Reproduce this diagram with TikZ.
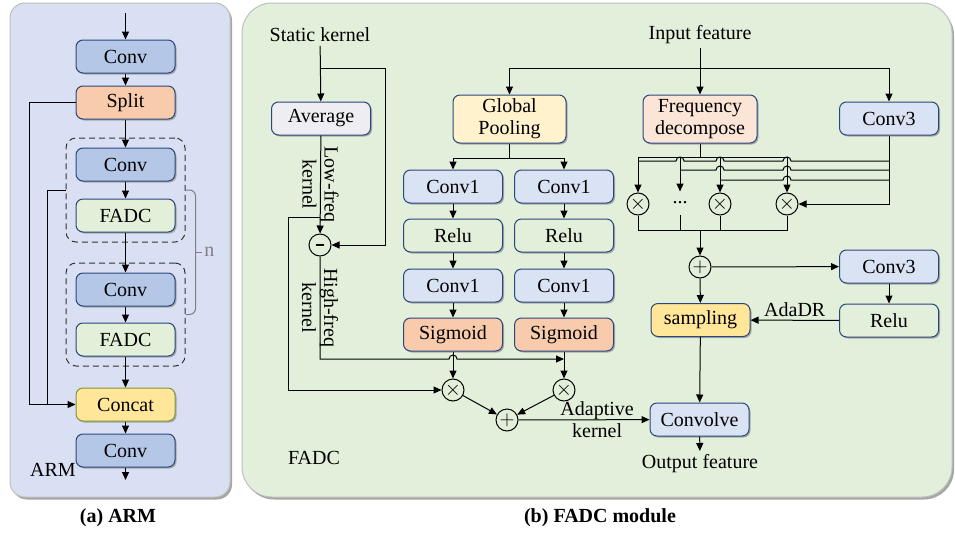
\documentclass[tikz,border=0pt]{standalone}
\usepackage{fontspec}
\setmainfont{Liberation Serif}
\usepackage{xcolor}
\definecolor{boxline}{RGB}{44, 70, 122}
\definecolor{armbg}{RGB}{218, 224, 243}
\definecolor{fadcbg}{RGB}{226, 239, 218}
\definecolor{convblue}{RGB}{180, 199, 231}
\definecolor{lightblue}{RGB}{218, 227, 243}
\definecolor{peach}{RGB}{248, 203, 173}
\definecolor{lightpeach}{RGB}{251, 229, 214}
\definecolor{paleyellow}{RGB}{255, 242, 204}
\definecolor{gold}{RGB}{255, 230, 153}
\definecolor{palegreen}{RGB}{226, 240, 217}
\definecolor{avggray}{RGB}{238, 238, 242}
\definecolor{concatline}{RGB}{130, 150, 60}
\definecolor{shadowgray}{RGB}{165, 170, 170}
\usepackage{tikz}
\usetikzlibrary{
    arrows.meta,
    positioning,
    fit
}
\tikzstyle{arrow} = [
    -{Triangle[length=8pt,width=7pt]}
]

\begin{document}
\begin{tikzpicture}[
  x=1pt, y=-1pt,
  font=\fontsize{20}{22}\selectfont,
  line width=1pt,
  node distance=15pt,
  box/.style={draw=boxline, rounded corners=7pt, minimum width=99pt, minimum height=33pt,
    preaction={draw=none, fill=shadowgray, transform canvas={shift={(1.5pt,-1.5pt)}}}},
  twoline/.style={box, align=center, minimum height=48pt},
  op/.style={draw, circle, minimum size=22pt, inner sep=0pt},
  group/.style={draw=black!80, dashed, dash pattern=on 6pt off 4pt, rounded corners=10pt, inner sep=9.5pt},
  panel/.style={draw=gray!50, preaction={draw=none, fill=gray!70, transform canvas={shift={(2pt,-2.5pt)}}}},
  brace/.style={draw=gray, rounded corners=6pt},
  caption/.style={font=\fontsize{20}{22}\selectfont\bfseries}
]
\useasboundingbox (0,0) rectangle (955,533);

\draw[panel, fill=armbg, rounded corners=15pt] (10,3) rectangle (230,497);
\draw[panel, fill=fadcbg, rounded corners=30pt] (242,3) rectangle (952,497);

\node[box, fill=convblue] (aconv1) at (125.5,56.5) {Conv};
\node[box, fill=peach, below=12pt of aconv1] (split) {Split};
\node[box, fill=convblue, below=28pt of split] (aconv2) {Conv};
\node[box, fill=palegreen, below=17pt of aconv2] (afadc1) {FADC};
\node[box, fill=convblue, below=40pt of afadc1] (aconv3) {Conv};
\node[box, fill=palegreen, below=16pt of aconv3] (afadc2) {FADC};
\node[box, fill=gold, draw=concatline, below=31pt of afadc2] (concat) {Concat};
\node[box, fill=convblue, below=12pt of concat] (aconv4) {Conv};
\node[group, fit=(aconv2)(afadc1)] (grp1) {};
\node[group, fit=(aconv3)(afadc2)] (grp2) {};
\coordinate (armin) at (125.5,13);
\coordinate (armout) at (125.5,480);
\node (armlbl) at (53,470) {ARM};
\node[caption] (capa) at (118,518) {(a) ARM};

\draw[arrow] (armin) -- (aconv1);
\draw[arrow] (aconv1) -- (split);
\draw[arrow] (split) -- (aconv2);
\draw[arrow] (aconv2) -- (afadc1);
\draw[arrow] (afadc1) -- (aconv3);
\draw[arrow] (aconv3) -- (afadc2);
\draw[arrow] (afadc2) -- (concat);
\draw[arrow] (concat) -- (aconv4);
\draw[arrow] (aconv4) -- (armout);
\draw[arrow] (split) -- ++(-96.5,0) |- (concat);
\draw (grp1) -| ([xshift=-28pt]concat.west);
\draw[brace] (grp1.east) -- ++(10,0) |- (grp2.east);
\path (grp1.east) -- (grp2.east) coordinate[midway] (nmid);
\draw[draw=gray] ([xshift=10pt]nmid) -- ++(6,0) node[right=-1pt, text=gray] (nlbl) {n};

\node (stk) at (320,35) {Static kernel};
\node (inp) at (700,35) {Input feature};
\node[box, fill=avggray] (avg) at (321,118.5) {Average};
\node[op] (minus) at (320,245) {\rule{8pt}{2.2pt}};
\node[twoline, fill=paleyellow, minimum width=113pt] (gp) at (509.5,119) {Global\\Pooling};
\node[twoline, fill=lightpeach, minimum width=114pt] (fd) at (700,119) {Frequency\\decompose};
\node[box, fill=lightblue] (c3a) at (889,118.5) {Conv3};

\node[box, fill=lightblue] (c1a) at (453,186.5) {Conv1};
\node[box, fill=fadcbg, below=of c1a] (relua) {Relu};
\node[box, fill=lightblue, below=16pt of relua] (c1c) {Conv1};
\node[box, fill=peach, below=of c1c] (siga) {Sigmoid};
\node[box, fill=lightblue, right=11pt of c1a] (c1b) {Conv1};
\node[box, fill=fadcbg, below=of c1b] (relub2) {Relu};
\node[box, fill=lightblue, below=16pt of relub2] (c1d) {Conv1};
\node[box, fill=peach, below=of c1d] (sigb) {Sigmoid};
\node[op, below=27pt of siga] (mula) {$\times$};
\node[op, below=27pt of sigb] (mulb) {$\times$};
\node[op] (adda) at (507,420) {$+$};

\node[op] (m1) at (638,204) {$\times$};
\node[op, draw=none] (dots) at (680,203) {...};
\node[op] (m3) at (720,204) {$\times$};
\node[op] (m4) at (787,204) {$\times$};
\node[op] (addb) at (700,267) {$+$};
\node[box, fill=lightblue] (c3b) at (889,266.5) {Conv3};
\node[box, fill=fadcbg, below=20pt of c3b] (relub) {Relu};
\node[box, fill=gold] (samp) at (700.5,320) {sampling};
\node[box, fill=lightblue] (conv) at (699.5,419.5) {Convolve};
\node (out) at (700,464) {Output feature};
\node (fadclbl) at (314,458) {FADC};
\node[caption] (capb) at (600,518) {(b) FADC module};

\coordinate (sk) at (320,68);
\coordinate (ik) at (700,68);
\coordinate (lowk) at (320,217);

\draw[arrow] (stk) -- (avg);
\draw[arrow] (sk) -- ++(65,0) |- (minus);
\draw[arrow] (avg) -- (minus) node[midway, rotate=-90, align=center] {Low-freq\\kernel};
\draw[arrow] (lowk) -- ++(-32,0) |- (mula);
\draw[arrow] (minus) -- ++(0,114) coordinate (hk)
  -- ([xshift=-4pt]hk -| siga) arc[start angle=180, end angle=0, radius=4pt] -- (hk -| sigb);
\path (minus.south) -- (hk) node[midway, rotate=-90, align=center] (hflbl) {High-freq\\kernel};

\draw[arrow] (inp) -- (fd);
\draw[arrow] (ik) -| (gp);
\draw[arrow] (ik) -| (c3a);
\draw (gp) -- ++(0,39) coordinate (gpj);
\draw[arrow] (gpj) -| (c1a);
\draw[arrow] (gpj) -| (c1b);
\draw[arrow] (c1a) -- (relua);
\draw[arrow] (relua) -- (c1c);
\draw[arrow] (c1c) -- (siga);
\draw[arrow] (c1b) -- (relub2);
\draw[arrow] (relub2) -- (c1d);
\draw[arrow] (c1d) -- (sigb);
\draw[arrow] (siga) -- (mula);
\draw[arrow] (sigb) -- (mulb);
\draw[arrow] (mula) -- (adda);
\draw[arrow] (mulb) -- (adda);
\draw[arrow] (adda) -- (conv) node[pos=0.6, align=center] {Adaptive\\kernel};

\draw (fd) -- ++(0,38) coordinate (fdj);
\draw[arrow] (fdj) -| (m1);
\draw[arrow] (fdj) -| (m4);
\draw[arrow] (fdj -| dots) -- (dots);
\draw[arrow] (fdj -| m3) -- (m3);
\draw[arrow] (c3a) |- (m4);
\draw (889,161) -- (791,161) arc[start angle=0, end angle=180, radius=4pt]
  -- (724,161) arc[start angle=0, end angle=180, radius=4pt]
  -- (684,161) arc[start angle=0, end angle=180, radius=4pt] -- (638,161);
\draw (889,170) -- (791,170) arc[start angle=0, end angle=180, radius=4pt]
  -- (724,170) arc[start angle=0, end angle=180, radius=4pt] -- (680,170);
\draw (889,180) -- (791,180) arc[start angle=0, end angle=180, radius=4pt] -- (720,180);
\draw (m1) -- ++(0,26) -| (m4);
\draw (m3) -- ++(0,26);
\draw (dots) -- ++(0,27);
\draw[arrow] (addb |- 0,230) -- (addb);
\draw[arrow] (addb) -- (c3b);
\draw[arrow] (c3b) -- (relub);
\draw[arrow] (relub) -- (samp) node[midway, above] {AdaDR};
\draw[arrow] (addb) -- (samp);
\draw[arrow] (samp) -- (conv);
\draw[arrow] (conv) -- (out);

\end{tikzpicture}
\end{document}
